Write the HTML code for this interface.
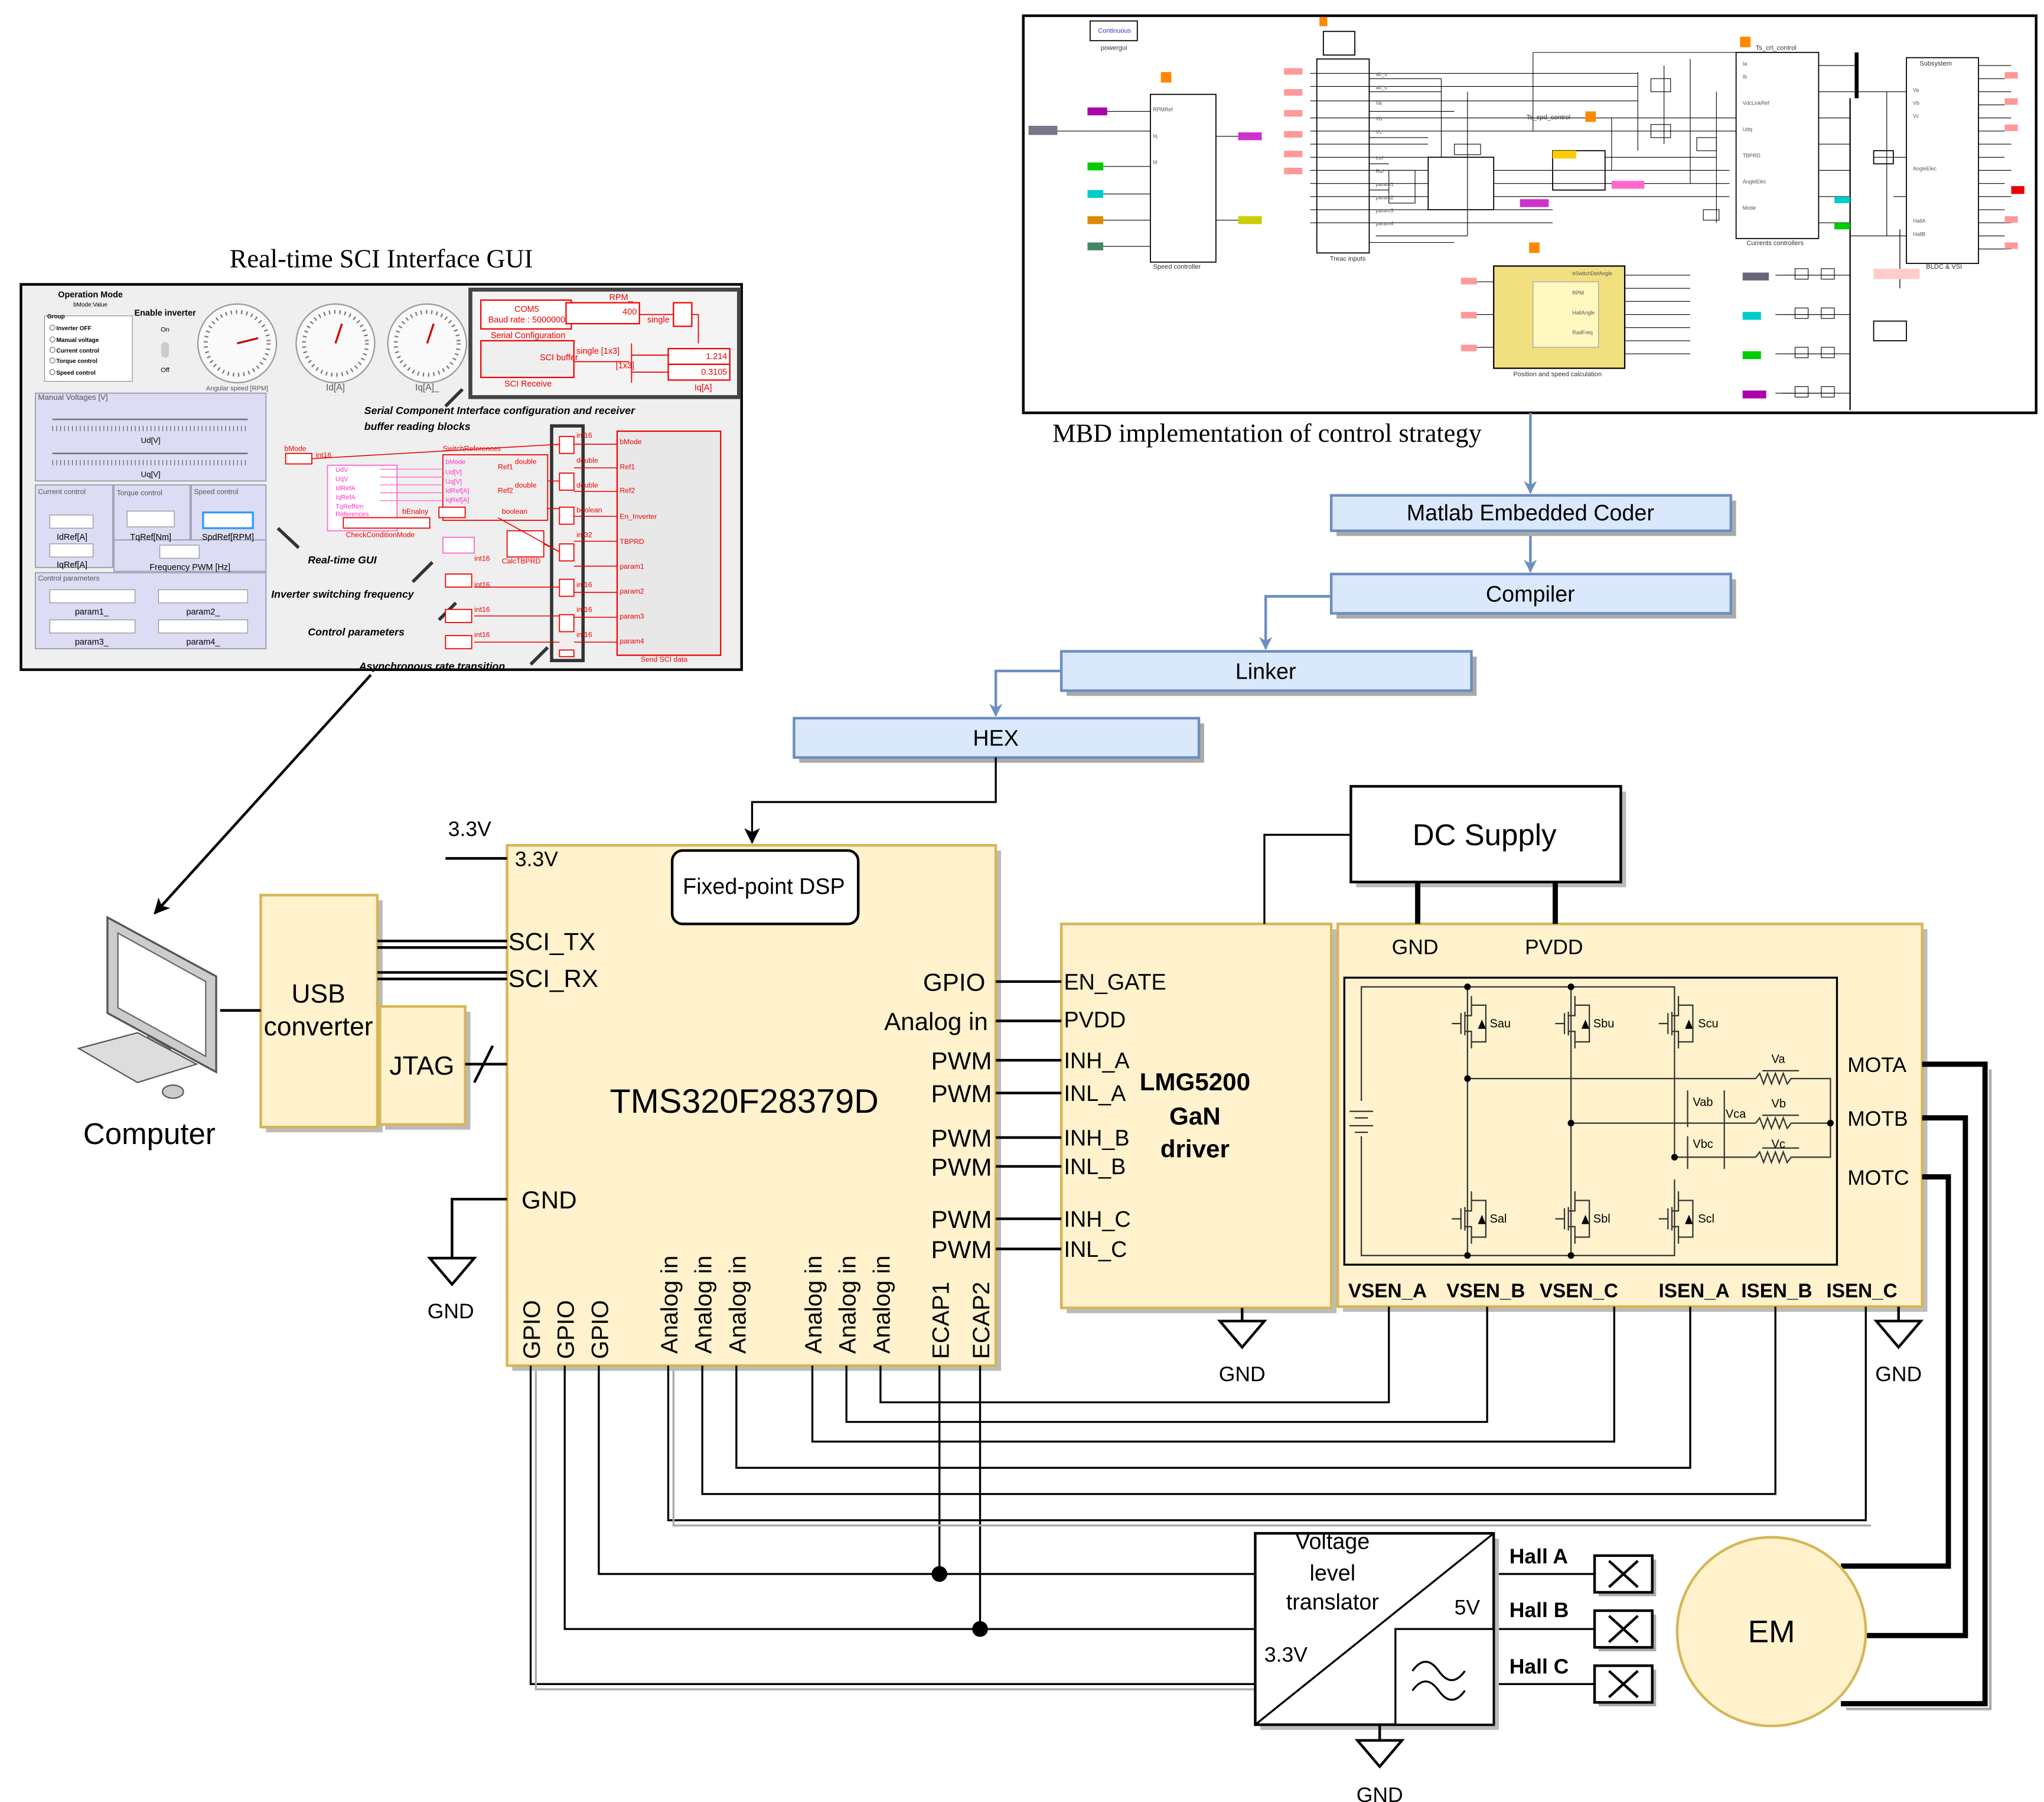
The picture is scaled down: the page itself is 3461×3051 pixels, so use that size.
<!DOCTYPE html>
<html><head><meta charset="utf-8"><style>
html,body{margin:0;padding:0;background:#fff}
svg{display:block}
text{font-family:"Liberation Sans",Arial,sans-serif}
.s{font-family:"Liberation Serif",serif}
</style></head><body>
<svg xmlns="http://www.w3.org/2000/svg" width="3461" height="3051" viewBox="0 0 1560 1375" preserveAspectRatio="none">
<defs>
<marker id="ab" markerWidth="10" markerHeight="10" refX="9" refY="5" orient="auto" markerUnits="userSpaceOnUse"><path d="M0,0 L10,5 L0,10 L3,5z" fill="#6c8ebf"/></marker>
<marker id="ak" markerWidth="12" markerHeight="12" refX="11" refY="6" orient="auto" markerUnits="userSpaceOnUse"><path d="M0,0 L12,6 L0,12 L3,6z" fill="#000"/></marker>
</defs>

<!-- ===== GUI ===== -->
<text x="291" y="204" class="s" font-size="20" text-anchor="middle">Real-time SCI Interface GUI</text>
<rect x="16" y="217" width="550" height="294" fill="#efefef" stroke="#000" stroke-width="2"/>
<text x="69" y="227" font-size="6.5" font-weight="bold" text-anchor="middle">Operation Mode</text>
<text x="69" y="234" font-size="4.5" text-anchor="middle">bMode:Value</text>
<rect x="34" y="241" width="67" height="50" fill="#fff" stroke="#888" stroke-width="0.5"/>
<g font-size="4.5" font-weight="bold"><text x="36" y="243">Group</text><text x="43" y="252">Inverter OFF</text><text x="43" y="261">Manual voltage</text><text x="43" y="269">Current control</text><text x="43" y="277">Torque control</text><text x="43" y="286">Speed control</text></g>
<g fill="none" stroke="#666" stroke-width="0.5"><circle cx="40" cy="250" r="2"/><circle cx="40" cy="259" r="2"/><circle cx="40" cy="267" r="2"/><circle cx="40" cy="275" r="2"/><circle cx="40" cy="284" r="2"/></g>
<text x="126" y="241" font-size="6.5" font-weight="bold" text-anchor="middle">Enable inverter</text>
<text x="126" y="253" font-size="5" text-anchor="middle">On</text><rect x="123" y="261" width="6" height="12" rx="3" fill="#ccc"/><text x="126" y="284" font-size="5" text-anchor="middle">Off</text>
<g fill="#fafafa" stroke="#999" stroke-width="1"><circle cx="181" cy="262" r="30"/><circle cx="256" cy="262" r="30"/><circle cx="326" cy="262" r="30"/></g>
<g fill="none" stroke="#777" stroke-width="3" stroke-dasharray="1 3"><circle cx="181" cy="262" r="24"/><circle cx="256" cy="262" r="24"/><circle cx="326" cy="262" r="24"/></g>
<g stroke="#c00" stroke-width="1.5"><line x1="181" y1="262" x2="197" y2="258"/><line x1="256" y1="262" x2="261" y2="247"/><line x1="326" y1="262" x2="331" y2="247"/></g>
<g font-size="5" fill="#555" text-anchor="middle"><text x="181" y="298">Angular speed [RPM]</text><text x="256" y="298" font-size="7">Id[A]</text><text x="326" y="298" font-size="7">Iq[A]_</text></g>
<rect x="27" y="300" width="176" height="67" fill="#dcdcf4" stroke="#99a" stroke-width="0.8"/>
<text x="29" y="305" font-size="6" fill="#555">Manual Voltages [V]</text>
<g stroke="#777" stroke-width="1.2"><line x1="40" y1="320" x2="189" y2="320"/><line x1="40" y1="346" x2="189" y2="346"/></g>
<g stroke="#555" stroke-width="4" stroke-dasharray="0.5 2.5"><line x1="40" y1="327" x2="189" y2="327"/><line x1="40" y1="353" x2="189" y2="353"/></g>
<g font-size="6" text-anchor="middle"><text x="115" y="338">Ud[V]</text><text x="115" y="364">Uq[V]</text></g>
<g fill="#dcdcf4" stroke="#99a" stroke-width="0.8"><rect x="27" y="370" width="59" height="63"/><rect x="87" y="370" width="58" height="63"/><rect x="146" y="370" width="57" height="63"/><rect x="87" y="412" width="116" height="24"/><rect x="27" y="437" width="176" height="58"/></g>
<g font-size="5.5" fill="#555"><text x="29" y="377">Current control</text><text x="89" y="378">Torque control</text><text x="148" y="377">Speed control</text><text x="29" y="443">Control parameters</text></g>
<g fill="#fff" stroke="#888" stroke-width="0.5"><rect x="38" y="393" width="33" height="10"/><rect x="38" y="415" width="33" height="10"/><rect x="97" y="390" width="36" height="12"/><rect x="155" y="391" width="38" height="12" stroke="#39f" stroke-width="1.5"/><rect x="122" y="416" width="30" height="10"/><rect x="38" y="450" width="65" height="10"/><rect x="121" y="450" width="68" height="10"/><rect x="38" y="473" width="65" height="10"/><rect x="121" y="473" width="68" height="10"/></g>
<g font-size="6.5" text-anchor="middle"><text x="55" y="412">IdRef[A]</text><text x="55" y="433">IqRef[A]</text><text x="115" y="412">TqRef[Nm]</text><text x="174" y="412">SpdRef[RPM]</text><text x="145" y="435">Frequency PWM [Hz]</text><text x="70" y="469">param1_</text><text x="155" y="469">param2_</text><text x="70" y="492">param3_</text><text x="155" y="492">param4_</text></g>
<rect x="359" y="221" width="205" height="82" fill="#f4f4f4" stroke="#444" stroke-width="3"/>
<g fill="#fff" stroke="#e00" stroke-width="1"><rect x="367" y="229" width="69" height="22"/><rect x="367" y="260" width="71" height="28" fill="#eee"/><rect x="432" y="231" width="56" height="16"/><rect x="514" y="231" width="14" height="18"/><rect x="510" y="266" width="47" height="12"/><rect x="510" y="278" width="47" height="12"/></g>
<g font-size="6.5" fill="#e00"><text x="402" y="238" text-anchor="middle">COM5</text><text x="402" y="246" text-anchor="middle">Baud rate : 5000000</text><text x="403" y="258" text-anchor="middle">Serial Configuration</text><text x="403" y="295" text-anchor="middle">SCI Receive</text><text x="465" y="229">RPM_</text><text x="486" y="240" text-anchor="end">400</text><text x="494" y="246">single</text><text x="440" y="270">single [1x3]</text><text x="470" y="281">[1x3]</text><text x="555" y="274" text-anchor="end">1.214</text><text x="555" y="286" text-anchor="end">0.3105</text><text x="530" y="298">Iq[A]</text><text x="412" y="275">SCI buffer</text></g>
<g stroke="#e00" stroke-width="0.8" fill="none"><line x1="438" y1="276" x2="480" y2="276"/><line x1="482" y1="262" x2="482" y2="292"/><line x1="482" y1="271" x2="510" y2="271"/><line x1="482" y1="284" x2="510" y2="284"/><line x1="514" y1="240" x2="488" y2="240"/><path d="M528,240 H533 V262"/></g>
<g font-size="8" font-weight="bold" font-style="italic"><text x="278" y="316">Serial Component Interface configuration and receiver</text><text x="278" y="328">buffer reading blocks</text><text x="235" y="430">Real-time GUI</text><text x="207" y="456">Inverter switching frequency</text><text x="235" y="485">Control parameters</text><text x="274" y="511">Asynchronous rate transition</text><text x="496" y="413">Transmission</text><text x="496" y="424">of GUI</text><text x="496" y="435">parameters</text><text x="496" y="445">over SCI to</text><text x="496" y="456">Control Board</text></g>
<g stroke="#333" stroke-width="2.5"><line x1="340" y1="310" x2="353" y2="297"/><line x1="228" y1="418" x2="212" y2="403"/><line x1="315" y1="444" x2="330" y2="429"/><line x1="335" y1="473" x2="348" y2="460"/><line x1="405" y1="507" x2="418" y2="494"/></g>
<rect x="471" y="329" width="79" height="171" fill="#e8e8e8" stroke="#e00"/>
<rect x="421" y="325" width="24" height="179" fill="none" stroke="#333" stroke-width="2.5"/>
<g fill="#fff" stroke="#e00" stroke-width="0.8"><rect x="427" y="333" width="11" height="13"/><rect x="427" y="361" width="11" height="13"/><rect x="427" y="387" width="11" height="13"/><rect x="427" y="415" width="11" height="13"/><rect x="427" y="442" width="11" height="13"/><rect x="427" y="469" width="11" height="13"/><rect x="427" y="496" width="11" height="5"/><rect x="338" y="347" width="80" height="50" fill="#eee"/><rect x="250" y="355" width="53" height="50" stroke="#f6c"/><rect x="218" y="346" width="20" height="8"/><rect x="338" y="410" width="24" height="12" stroke="#f6c"/><rect x="387" y="405" width="28" height="20"/><rect x="340" y="438" width="20" height="10"/><rect x="340" y="465" width="20" height="10"/><rect x="340" y="485" width="20" height="10"/><rect x="262" y="395" width="66" height="8"/><rect x="335" y="387" width="20" height="8"/></g>
<g stroke="#e00" stroke-width="0.7"><line x1="238" y1="350" x2="427" y2="339"/><line x1="418" y1="367" x2="427" y2="367"/><line x1="418" y1="388" x2="427" y2="388"/><line x1="380" y1="395" x2="427" y2="421"/><line x1="415" y1="415" x2="427" y2="421"/><line x1="362" y1="448" x2="427" y2="448"/><line x1="362" y1="470" x2="427" y2="470"/><line x1="362" y1="490" x2="427" y2="490"/><line x1="438" y1="339" x2="471" y2="339"/><line x1="438" y1="357" x2="471" y2="357"/><line x1="438" y1="375" x2="471" y2="375"/><line x1="438" y1="394" x2="471" y2="394"/><line x1="438" y1="413" x2="471" y2="413"/><line x1="438" y1="432" x2="471" y2="432"/><line x1="438" y1="452" x2="471" y2="452"/><line x1="438" y1="471" x2="471" y2="471"/><line x1="438" y1="490" x2="471" y2="490"/></g>
<g stroke="#f6c" stroke-width="0.6"><line x1="290" y1="358" x2="338" y2="358"/><line x1="290" y1="364" x2="338" y2="364"/><line x1="290" y1="370" x2="338" y2="370"/><line x1="290" y1="376" x2="338" y2="376"/><line x1="290" y1="382" x2="338" y2="382"/></g>
<g font-size="5.5" fill="#e00"><text x="217" y="344">bMode</text><text x="241" y="349">int16</text><text x="338" y="344">SwitchReferences</text><text x="393" y="354">double</text><text x="380" y="358">Ref1</text><text x="393" y="372">double</text><text x="380" y="376">Ref2</text><text x="307" y="392">bEnalny</text><text x="383" y="392">boolean</text><text x="264" y="410">CheckConditionMode</text><text x="383" y="430">CalcTBPRD</text><text x="473" y="339">bMode</text><text x="473" y="358">Ref1</text><text x="473" y="376">Ref2</text><text x="473" y="396">En_Inverter</text><text x="473" y="415">TBPRD</text><text x="473" y="434">param1</text><text x="473" y="453">param2</text><text x="473" y="472">param3</text><text x="473" y="491">param4</text><text x="489" y="505">Send SCI data</text><text x="440" y="334">int16</text><text x="440" y="353">double</text><text x="440" y="372">double</text><text x="440" y="391">boolean</text><text x="440" y="410">int32</text><text x="440" y="448">int16</text><text x="440" y="467">int16</text><text x="440" y="486">int16</text><text x="362" y="428">int16</text><text x="362" y="448">int16</text><text x="362" y="467">int16</text><text x="362" y="486">int16</text></g>
<g font-size="5" fill="#f3c"><text x="256" y="360">UdV</text><text x="256" y="367">UqV</text><text x="256" y="374">IdRefA</text><text x="256" y="381">IqRefA</text><text x="256" y="388">TqRefNm</text><text x="256" y="394">References</text><text x="340" y="354">bMode</text><text x="340" y="362">Ud[V]</text><text x="340" y="369">Uq[V]</text><text x="340" y="376">IdRef[A]</text><text x="340" y="383">IqRef[A]</text></g>

<!-- ===== MBD ===== -->
<rect x="781" y="12" width="773" height="303" fill="#fff" stroke="#000" stroke-width="2"/>
<text x="967" y="337" class="s" font-size="20" text-anchor="middle">MBD implementation of control strategy</text>
<g fill="#fff" stroke="#000" stroke-width="0.8"><rect x="878" y="72" width="50" height="128"/><rect x="1325" y="40" width="63" height="142"/><rect x="1455" y="44" width="55" height="157"/><rect x="1090" y="120" width="50" height="40"/><rect x="1005" y="45" width="40" height="148"/><rect x="832" y="16" width="36" height="15"/><rect x="1010" y="24" width="24" height="18"/><rect x="1430" y="245" width="25" height="15"/><rect x="1430" y="115" width="15" height="10"/><rect x="1185" y="115" width="40" height="30"/></g>
<g fill="#fff" stroke="#000" stroke-width="0.5"><rect x="1370" y="205" width="10" height="8"/><rect x="1390" y="205" width="10" height="8"/><rect x="1370" y="235" width="10" height="8"/><rect x="1390" y="235" width="10" height="8"/><rect x="1370" y="265" width="10" height="8"/><rect x="1390" y="265" width="10" height="8"/><rect x="1370" y="295" width="10" height="8"/><rect x="1390" y="295" width="10" height="8"/><rect x="1060" y="130" width="20" height="25"/><rect x="1110" y="110" width="20" height="8"/><rect x="1260" y="60" width="15" height="10"/><rect x="1260" y="95" width="15" height="10"/><rect x="1295" y="105" width="15" height="10"/><rect x="1300" y="160" width="12" height="8"/></g>
<rect x="1140" y="203" width="100" height="78" fill="#f0e080" stroke="#000"/>
<rect x="1170" y="215" width="50" height="50" fill="#fff8c0" stroke="#999" stroke-width="0.5"/>
<line x1="1417" y1="40" x2="1417" y2="75" stroke="#000" stroke-width="3"/>
<line x1="1412" y1="75" x2="1412" y2="313" stroke="#000" stroke-width="1"/>
<line x1="1450" y1="175" x2="1450" y2="220" stroke="#000" stroke-width="0.6"/>
<g stroke="#000" stroke-width="0.5" fill="none">
<path d="M800,100 H878 M840,85 H878 M840,127 H878 M840,148 H878 M840,168 H878 M840,188 H878"/>
<path d="M928,104 H960 M928,168 H960"/>
<path d="M1000,56 H1250 M1000,66 H1250 M1000,77 H1250 M1000,90 H1325 M1000,100 H1325 M1000,110 H1090 M1000,120 H1090 M1000,130 H1090 M1000,140 H1090 M1000,150 H1090 M1000,160 H1185 M1000,170 H1185 M1050,180 H1120"/>
<path d="M1045,60 H1100 M1045,70 H1100 M1045,85 H1110 M1045,105 H1090 M1045,125 H1060 M1045,145 H1060 M1045,185 H1110"/>
<path d="M1140,130 H1320 M1140,140 H1320 M1140,150 H1320 M1225,120 H1310 M1225,130 H1290"/>
<path d="M1250,55 V115 M1270,50 V110 M1290,45 V140 M1310,70 V170 M1230,90 V130 M1100,60 V120 M1120,70 V180"/>
<path d="M1388,50 H1417 M1388,70 H1417 M1388,90 H1412 M1388,110 H1412 M1388,130 H1412 M1388,150 H1412 M1388,170 H1412"/>
<path d="M1417,70 H1455 M1412,180 H1455 M1412,210 H1360 M1412,240 H1360 M1412,270 H1360 M1412,300 H1360"/>
<path d="M1510,50 H1535 M1510,70 H1535 M1510,90 H1535 M1510,110 H1535 M1510,130 H1535 M1510,150 H1535 M1510,170 H1535 M1510,190 H1535 M1510,60 H1530 M1510,80 H1530 M1510,100 H1530 M1510,120 H1530 M1510,140 H1530 M1510,160 H1530 M1510,180 H1530"/>
<path d="M1240,210 H1290 M1240,220 H1290 M1240,230 H1290 M1240,240 H1290 M1240,250 H1290 M1240,260 H1290 M1240,270 H1290 M1120,215 H1140 M1120,240 H1140 M1120,265 H1140"/>
<path d="M1355,210 H1400 M1355,240 H1400 M1355,270 H1400 M1355,300 H1400 M1170,40 H1325 M1170,40 V100"/>
<path d="M1440,70 V180 M1430,120 H1455 M1445,150 H1455"/>
</g>
<g>
<rect x="785" y="96" width="22" height="7" fill="#778"/><rect x="830" y="82" width="15" height="6" fill="#a0a"/><rect x="830" y="124" width="12" height="6" fill="#0c0"/><rect x="830" y="145" width="12" height="6" fill="#0cc"/><rect x="830" y="165" width="12" height="6" fill="#d80"/><rect x="830" y="185" width="12" height="6" fill="#486"/>
<rect x="945" y="101" width="18" height="6" fill="#c3c"/><rect x="945" y="165" width="18" height="6" fill="#cc0"/>
<rect x="980" y="52" width="14" height="5" fill="#f99"/><rect x="980" y="68" width="14" height="5" fill="#f99"/><rect x="980" y="84" width="14" height="5" fill="#f99"/><rect x="980" y="100" width="14" height="5" fill="#f99"/><rect x="980" y="115" width="14" height="5" fill="#f99"/><rect x="980" y="128" width="14" height="5" fill="#f99"/>
<rect x="1160" y="152" width="22" height="6" fill="#c3c"/><rect x="1230" y="138" width="25" height="6" fill="#f6c"/><rect x="1185" y="115" width="18" height="6" fill="#fc0"/>
<rect x="1400" y="150" width="12" height="5" fill="#0cc"/><rect x="1400" y="170" width="12" height="5" fill="#0c0"/>
<rect x="1330" y="208" width="20" height="6" fill="#667"/><rect x="1330" y="238" width="14" height="6" fill="#0cc"/><rect x="1330" y="268" width="14" height="6" fill="#0c0"/><rect x="1330" y="298" width="18" height="6" fill="#a0a"/>
<rect x="1535" y="142" width="10" height="6" fill="#e00"/><rect x="1430" y="205" width="35" height="8" fill="#fcc"/>
<rect x="1530" y="55" width="10" height="5" fill="#f99"/><rect x="1530" y="75" width="10" height="5" fill="#f99"/><rect x="1530" y="95" width="10" height="5" fill="#f99"/><rect x="1530" y="165" width="10" height="5" fill="#f99"/><rect x="1530" y="185" width="10" height="5" fill="#f99"/>
<rect x="886" y="55" width="8" height="8" fill="#f80"/><rect x="1007" y="13" width="6" height="7" fill="#f80"/><rect x="1167" y="185" width="8" height="8" fill="#f80"/><rect x="1328" y="28" width="8" height="8" fill="#f80"/><rect x="1210" y="85" width="8" height="8" fill="#f80"/>
<rect x="1115" y="212" width="12" height="5" fill="#f99"/><rect x="1115" y="238" width="12" height="5" fill="#f99"/><rect x="1115" y="263" width="12" height="5" fill="#f99"/>
</g>
<g font-size="4" fill="#555"><text x="1050" y="58">ab_s</text><text x="1050" y="68">ab_s</text><text x="1050" y="80">Va</text><text x="1050" y="92">Vb</text><text x="1050" y="102">Vc</text><text x="1050" y="122">Iref</text><text x="1050" y="132">Ref</text><text x="1050" y="142">param1</text><text x="1050" y="152">param2</text><text x="1050" y="162">param3</text><text x="1050" y="172">param4</text><text x="1330" y="50">Ia</text><text x="1330" y="60">Ib</text><text x="1330" y="80">VdcLinkRef</text><text x="1330" y="100">Udq</text><text x="1330" y="120">TBPRD</text><text x="1330" y="140">AngleElec</text><text x="1330" y="160">Mode</text><text x="1460" y="70">Va</text><text x="1460" y="80">Vb</text><text x="1460" y="90">Vc</text><text x="1460" y="130">AngleElec</text><text x="1460" y="170">HallA</text><text x="1460" y="180">HallB</text><text x="1200" y="210">bSwitchDetAngle</text><text x="1200" y="225">RPM</text><text x="1200" y="240">HallAngle</text><text x="1200" y="255">RadFreq</text><text x="880" y="85">RPMRef</text><text x="880" y="105">Iq</text><text x="880" y="125">Id</text></g>
<g font-size="5" fill="#333"><text x="838" y="25" fill="#33c">Continuous</text><text x="840" y="38">powergui</text><text x="880" y="205">Speed controller</text><text x="1333" y="187">Currents controllers</text><text x="1155" y="287">Position and speed calculation</text><text x="1470" y="205">BLDC &amp; VSI</text><text x="1465" y="50">Subsystem</text><text x="1340" y="38">Ts_crt_control</text><text x="1165" y="91">Ts_spd_control</text><text x="1015" y="199">Treac inputs</text></g>

<!-- ===== Tool chain ===== -->
<g stroke="#6c8ebf" stroke-width="2" fill="none">
<line x1="1168" y1="315" x2="1168" y2="376" marker-end="url(#ab)"/>
<line x1="1168" y1="405" x2="1168" y2="436" marker-end="url(#ab)"/>
<path d="M1016,455 H966 V495" marker-end="url(#ab)"/>
<path d="M810,512 H760 V546" marker-end="url(#ab)"/>
</g>
<g fill="#aaa"><rect x="1020" y="382" width="305" height="27"/><rect x="1020" y="442" width="305" height="30"/><rect x="814" y="501" width="313" height="30"/><rect x="610" y="552" width="309" height="30"/></g>
<g fill="#dae8fc" stroke="#6c8ebf" stroke-width="2"><rect x="1016" y="378" width="305" height="27"/><rect x="1016" y="438" width="305" height="30"/><rect x="810" y="497" width="313" height="30"/><rect x="606" y="548" width="309" height="30"/></g>
<g font-size="17" text-anchor="middle"><text x="1168" y="397">Matlab Embedded Coder</text><text x="1168" y="459">Compiler</text><text x="966" y="518">Linker</text><text x="760" y="569">HEX</text></g>
<path d="M760,578 V612 H574 V643" stroke="#000" stroke-width="1.5" fill="none" marker-end="url(#ak)"/>

<line x1="283" y1="515" x2="118" y2="697" stroke="#000" stroke-width="2" marker-end="url(#ak)"/>

<g fill="#bbb"><rect x="391" y="649" width="373" height="397"/><rect x="203" y="687" width="89" height="177"/><rect x="294" y="772" width="65" height="90"/><rect x="814" y="709" width="206" height="293"/><rect x="1025" y="709" width="446" height="292"/><rect x="1035" y="604" width="206" height="73"/><rect x="517" y="653" width="142" height="56" rx="8"/></g>
<g fill="#fff2cc" stroke="#d6b656" stroke-width="2"><rect x="387" y="645" width="373" height="397"/><rect x="199" y="683" width="89" height="177"/><rect x="290" y="768" width="65" height="90"/><rect x="810" y="705" width="206" height="293"/><rect x="1021" y="705" width="446" height="292"/></g>
<rect x="1031" y="600" width="206" height="73" fill="#fff" stroke="#000" stroke-width="2"/>
<rect x="513" y="649" width="142" height="56" rx="8" fill="#fff" stroke="#000" stroke-width="2"/>

<text x="583" y="682" font-size="17" text-anchor="middle">Fixed-point DSP</text>
<text x="568" y="849" font-size="26" text-anchor="middle">TMS320F28379D</text>
<text x="393" y="661" font-size="16">3.3V</text>
<text x="342" y="638" font-size="16">3.3V</text>
<line x1="340" y1="655" x2="387" y2="655" stroke="#000" stroke-width="2"/>
<g font-size="19"><text x="388" y="725">SCI_TX</text><text x="388" y="753">SCI_RX</text><text x="398" y="922">GND</text></g>
<g font-size="19" text-anchor="end"><text x="752" y="756">GPIO</text><text x="754" y="786">Analog in</text><text x="757" y="816">PWM</text><text x="757" y="841">PWM</text><text x="757" y="875">PWM</text><text x="757" y="897">PWM</text><text x="757" y="937">PWM</text><text x="757" y="960">PWM</text></g>
<g font-size="18">
<text transform="translate(412,1037) rotate(-90)">GPIO</text>
<text transform="translate(438,1037) rotate(-90)">GPIO</text>
<text transform="translate(464,1037) rotate(-90)">GPIO</text>
<text transform="translate(517,1033) rotate(-90)">Analog in</text>
<text transform="translate(543,1033) rotate(-90)">Analog in</text>
<text transform="translate(569,1033) rotate(-90)">Analog in</text>
<text transform="translate(627,1033) rotate(-90)">Analog in</text>
<text transform="translate(653,1033) rotate(-90)">Analog in</text>
<text transform="translate(679,1033) rotate(-90)">Analog in</text>
<text transform="translate(724,1037) rotate(-90)">ECAP1</text>
<text transform="translate(755,1037) rotate(-90)">ECAP2</text>
</g>
<g font-size="20" text-anchor="middle"><text x="243" y="765">USB</text><text x="243" y="790">converter</text><text x="322" y="820">JTAG</text></g>

<g>
<path d="M82,700 L165,745 L165,818 L82,773z" fill="#ccc" stroke="#555" stroke-width="1.5"/>
<path d="M90,712 L157,749 L157,806 L90,769z" fill="#fff" stroke="#666"/>
<path d="M113,790 L130,800 L130,815 L113,805z" fill="#aaa" stroke="#555"/>
<path d="M60,800 L105,788 L150,812 L105,826z" fill="#ddd" stroke="#555"/>
<ellipse cx="132" cy="833" rx="8" ry="5" fill="#ccc" stroke="#555"/>
</g>
<text x="114" y="873" font-size="23" text-anchor="middle">Computer</text>
<g stroke="#000" stroke-width="2"><line x1="168" y1="771" x2="199" y2="771"/><line x1="288" y1="718" x2="387" y2="718"/><line x1="288" y1="723" x2="387" y2="723"/><line x1="288" y1="742" x2="387" y2="742"/><line x1="288" y1="747" x2="387" y2="747"/><line x1="355" y1="812" x2="387" y2="812"/><line x1="362" y1="826" x2="376" y2="798"/></g>

<g stroke="#000" stroke-width="2" fill="none"><path d="M387,915 H345 V960"/><path d="M328,960 H362 L345,980z"/></g>
<text x="344" y="1006" font-size="16" text-anchor="middle">GND</text>

<g stroke="#000" stroke-width="2"><line x1="760" y1="749" x2="810" y2="749"/><line x1="760" y1="779" x2="810" y2="779"/><line x1="760" y1="809" x2="810" y2="809"/><line x1="760" y1="834" x2="810" y2="834"/><line x1="760" y1="868" x2="810" y2="868"/><line x1="760" y1="890" x2="810" y2="890"/><line x1="760" y1="930" x2="810" y2="930"/><line x1="760" y1="953" x2="810" y2="953"/></g>
<g font-size="17"><text x="812" y="755">EN_GATE</text><text x="812" y="784">PVDD</text><text x="812" y="815">INH_A</text><text x="812" y="840">INL_A</text><text x="812" y="874">INH_B</text><text x="812" y="896">INL_B</text><text x="812" y="936">INH_C</text><text x="812" y="959">INL_C</text></g>
<g font-size="19" font-weight="bold" text-anchor="middle"><text x="912" y="832">LMG5200</text><text x="912" y="858">GaN</text><text x="912" y="883">driver</text></g>
<g stroke="#000" stroke-width="2" fill="none"><path d="M948,998 V1008"/><path d="M931,1008 H965 L948,1028z"/></g>
<text x="948" y="1054" font-size="16" text-anchor="middle">GND</text>

<text x="1133" y="645" font-size="23" text-anchor="middle">DC Supply</text>
<g stroke="#000" stroke-width="4"><line x1="1082" y1="673" x2="1082" y2="705"/><line x1="1187" y1="673" x2="1187" y2="705"/></g>
<path d="M1031,637 H965 V705" stroke="#000" stroke-width="1.5" fill="none"/>
<g font-size="16" text-anchor="middle"><text x="1080" y="728">GND</text><text x="1186" y="728">PVDD</text></g>
<g font-size="16"><text x="1410" y="818">MOTA</text><text x="1410" y="859">MOTB</text><text x="1410" y="904">MOTC</text></g>
<g font-size="15" font-weight="bold" text-anchor="middle"><text x="1059" y="990">VSEN_A</text><text x="1134" y="990">VSEN_B</text><text x="1205" y="990">VSEN_C</text><text x="1293" y="990">ISEN_A</text><text x="1356" y="990">ISEN_B</text><text x="1421" y="990">ISEN_C</text></g>
<g stroke="#000" stroke-width="2" fill="none"><path d="M1449,997 V1008"/><path d="M1432,1008 H1466 L1449,1028z"/></g>
<text x="1449" y="1054" font-size="16" text-anchor="middle">GND</text>

<rect x="1026" y="746" width="376" height="219" fill="none" stroke="#000" stroke-width="1.5"/>
<g stroke="#333" stroke-width="1" fill="none">
<path d="M1039,840 V753 H1278 V883"/>
<path d="M1039,867 V958 H1278 V900"/>
<path d="M1120,753 V958 M1199,753 V958"/>
<line x1="1030" y1="848" x2="1048" y2="848"/><line x1="1034" y1="853" x2="1044" y2="853"/><line x1="1030" y1="859" x2="1048" y2="859"/><line x1="1034" y1="864" x2="1044" y2="864"/>
<path d="M1120,823 H1340 M1199,857 H1340 M1278,883 H1340 M1370,823 H1397 V883 H1370 M1370,857 H1397"/>
<path d="M1340,823 l3,-4 l3,8 l3,-8 l3,8 l3,-8 l3,8 l3,-8 l3,8 l3,-4 H1370"/>
<path d="M1340,857 l3,-4 l3,8 l3,-8 l3,8 l3,-8 l3,8 l3,-8 l3,8 l3,-4 H1370"/>
<path d="M1340,883 l3,-4 l3,8 l3,-8 l3,8 l3,-8 l3,8 l3,-8 l3,8 l3,-4 H1370"/>
<path d="M1288,832 V860 M1288,867 V892 M1316,832 V892"/>
<path d="M1345,817 H1373 M1345,851 H1373 M1345,876 H1373"/>
</g>
<g id="sw" stroke="#333" stroke-width="1" fill="none">
<path d="M1108,781 H1115 M1115,773 V789 M1118,772 V790 M1118,775 H1123 V760 M1118,787 H1123 V800 M1123,767 H1134 V795 H1123"/>
</g>
<use href="#sw" x="79"/><use href="#sw" x="158"/>
<use href="#sw" y="149"/><use href="#sw" x="79" y="149"/><use href="#sw" x="158" y="149"/>
<g fill="#000"><path d="M1131,778 l3,7 h-6z"/><path d="M1210,778 l3,7 h-6z"/><path d="M1289,778 l3,7 h-6z"/><path d="M1131,927 l3,7 h-6z"/><path d="M1210,927 l3,7 h-6z"/><path d="M1289,927 l3,7 h-6z"/>
<circle cx="1120" cy="753" r="2.5"/><circle cx="1199" cy="753" r="2.5"/><circle cx="1120" cy="958" r="2.5"/><circle cx="1199" cy="958" r="2.5"/><circle cx="1120" cy="823" r="2.5"/><circle cx="1199" cy="857" r="2.5"/><circle cx="1278" cy="883" r="2.5"/><circle cx="1397" cy="857" r="2.5"/></g>
<g font-size="9"><text x="1137" y="784">Sau</text><text x="1216" y="784">Sbu</text><text x="1296" y="784">Scu</text><text x="1137" y="933">Sal</text><text x="1216" y="933">Sbl</text><text x="1296" y="933">Scl</text><text x="1352" y="811">Va</text><text x="1352" y="845">Vb</text><text x="1352" y="876">Vc</text><text x="1292" y="844">Vab</text><text x="1317" y="853">Vca</text><text x="1292" y="876">Vbc</text></g>

<g stroke="#000" stroke-width="4" fill="none"><path d="M1467,812 H1515 V1300 H1405"/><path d="M1467,853 H1500 V1248 H1424"/><path d="M1467,898 H1487 V1195 H1405"/></g>
<g stroke="#aaa" stroke-width="2" fill="none"><path d="M1519,816 V1304 H1409"/></g>
<circle cx="1352" cy="1245" r="72" fill="#fff2cc" stroke="#d6b656" stroke-width="2"/>
<text x="1352" y="1253" font-size="24" text-anchor="middle">EM</text>

<g stroke="#000" stroke-width="1.5" fill="none">
<path d="M405,1042 V1285 H958"/>
<path d="M431,1042 V1243 H958"/>
<path d="M457,1042 V1201 H958"/>
<path d="M717,1042 V1201"/>
<path d="M748,1042 V1243"/>
<path d="M510,1042 V1160 H1424 V997"/>
<path d="M536,1042 V1140 H1355 V997"/>
<path d="M562,1042 V1120 H1290 V997"/>
<path d="M620,1042 V1100 H1232 V997"/>
<path d="M646,1042 V1085 H1135 V997"/>
<path d="M672,1042 V1070 H1060 V997"/>
<path d="M1140,1201 H1217 M1140,1243 H1217 M1140,1285 H1217"/>
</g>
<g stroke="#aaa" stroke-width="1.5" fill="none"><path d="M409,1046 V1289 H958"/><path d="M514,1046 V1164 H1428"/></g>
<circle cx="717" cy="1201" r="6" fill="#000"/><circle cx="748" cy="1243" r="6" fill="#000"/>

<rect x="962" y="1174" width="182" height="146" fill="#bbb"/>
<rect x="958" y="1170" width="182" height="146" fill="#fff" stroke="#000" stroke-width="2"/>
<line x1="958" y1="1316" x2="1140" y2="1170" stroke="#000" stroke-width="1.5"/>
<rect x="1065" y="1243" width="75" height="73" fill="#fff" stroke="#000" stroke-width="1.5"/>
<path d="M1078,1275 q10,-14 20,0 t20,0 M1078,1290 q10,-14 20,0 t20,0" stroke="#000" stroke-width="1.5" fill="none"/>
<g font-size="17" text-anchor="middle"><text x="1017" y="1182">Voltage</text><text x="1017" y="1206">level</text><text x="1017" y="1228">translator</text></g>
<text x="1110" y="1232" font-size="16">5V</text><text x="965" y="1268" font-size="16">3.3V</text>
<g stroke="#000" stroke-width="2" fill="none"><path d="M1053,1316 V1328"/><path d="M1036,1328 H1070 L1053,1348z"/></g>
<text x="1053" y="1375" font-size="16" text-anchor="middle">GND</text>
<g font-size="16" font-weight="bold"><text x="1152" y="1193">Hall A</text><text x="1152" y="1234">Hall B</text><text x="1152" y="1277">Hall C</text></g>
<g fill="#aaa"><rect x="1220" y="1190" width="44" height="28"/><rect x="1220" y="1232" width="44" height="28"/><rect x="1220" y="1274" width="44" height="28"/></g>
<g fill="#fff" stroke="#000" stroke-width="2"><rect x="1217" y="1187" width="44" height="28"/><rect x="1217" y="1229" width="44" height="28"/><rect x="1217" y="1271" width="44" height="28"/></g>
<g stroke="#000" stroke-width="2"><path d="M1228,1191 l22,20 M1250,1191 l-22,20 M1228,1233 l22,20 M1250,1233 l-22,20 M1228,1275 l22,20 M1250,1275 l-22,20"/></g>
</svg>
</body></html>
